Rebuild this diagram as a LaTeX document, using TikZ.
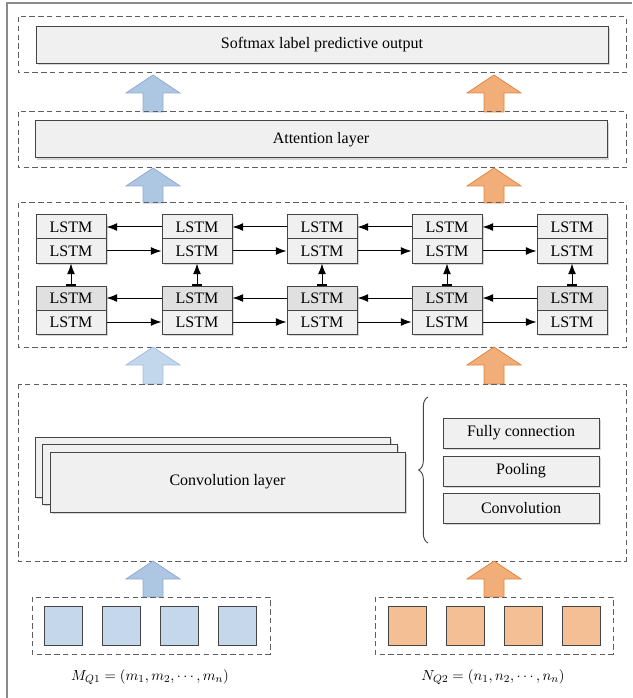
\documentclass[tikz,border=0pt]{standalone}
\usepackage{fontspec}
\setmainfont{Liberation Serif}
\usetikzlibrary{arrows.meta,decorations.pathreplacing,shadows}

\definecolor{framegray}{HTML}{8A8A8A}
\definecolor{dashgray}{HTML}{5E5E5E}
\definecolor{boxedge}{HTML}{454545}
\definecolor{boxfill}{HTML}{F0F0F0}
\definecolor{boxfilldark}{HTML}{E0E0E0}
\definecolor{blueA}{HTML}{ADC6E1}
\definecolor{blueAedge}{HTML}{8EABD2}
\definecolor{blueB}{HTML}{C3D7EC}
\definecolor{blueBedge}{HTML}{A3BEDF}
\definecolor{orangeA}{HTML}{F2AE79}
\definecolor{orangeAedge}{HTML}{E0843E}
\definecolor{bluesq}{HTML}{C5D7EA}
\definecolor{orangesq}{HTML}{F4BF94}

% upward block arrow: #1 centre x, #2 tip y, #3 bottom y, #4 fill, #5 edge
\newcommand\blockarrow[5]{%
  \filldraw[fill=#4,draw=#5,line width=0.6pt,line join=miter]
    (#1,#2) -- (#1+27,#2+18) -- (#1+10,#2+18) -- (#1+10,#3)
    -- (#1-10,#3) -- (#1-10,#2+18) -- (#1-27,#2+18) -- cycle;}

\begin{document}
\begin{tikzpicture}[x=0.75pt,y=-0.75pt,
  every node/.style={font=\fontsize{12}{14}\selectfont},
  panel/.style={draw=dashgray,line width=0.75pt,dash pattern=on 4pt off 2.6pt},
  shade box/.style={general shadow={fill=black!16,shadow xshift=1.3pt,shadow yshift=-1.3pt}},
  layerbox/.style={draw=boxedge,fill=boxfill,line width=0.75pt,shade box,
    inner sep=0pt,minimum width=#1*0.75pt,minimum height=37*0.75pt},
  lstm/.style={draw=boxedge,fill=boxfill,line width=0.75pt,shade box,
    inner sep=0pt,minimum width=70*0.75pt,minimum height=24*0.75pt},
  lstmdark/.style={lstm,fill=boxfilldark},
  sidebox/.style={draw=boxedge,fill=boxfill,line width=0.75pt,shade box,
    inner sep=0pt,minimum width=156*0.75pt,minimum height=30*0.75pt},
  convbox/.style={draw=boxedge,fill=boxfill,line width=0.75pt,shade box,
    inner sep=0pt,minimum width=355*0.75pt,minimum height=60*0.75pt},
  token/.style={draw=boxedge,line width=0.75pt,inner sep=0pt,
    minimum width=38*0.75pt,minimum height=39*0.75pt},
  flow/.style={line width=0.75pt,-{Latex[length=8pt,width=6pt]}},
  vflow/.style={line width=0.75pt,{Bar[width=7pt,line width=1.4pt]}-{Latex[length=8pt,width=6pt]}},
]
\useasboundingbox (0,0) rectangle (632,698);

% outer frame (top and left edges)
\draw[framegray,line width=0.9pt] (7,698) -- (7,3) -- (632,3);

% ---------- output layer ----------
\draw[panel] (18,17) rectangle (626,73);
\node[layerbox=572] (soft) at (322,45) {Softmax label predictive output};

\blockarrow{153}{75}{112}{blueA}{blueAedge}
\blockarrow{494}{75}{112}{orangeA}{orangeAedge}

% ---------- attention layer ----------
\draw[panel] (18,112) rectangle (626,168);
\node[layerbox=572] (att) at (321,139.5) {Attention layer};

\blockarrow{153}{168}{203}{blueA}{blueAedge}
\blockarrow{494}{168}{203}{orangeA}{orangeAedge}

% ---------- stacked bidirectional LSTM ----------
\draw[panel] (18,203) rectangle (626,347);
\foreach \i/\x in {1/71,2/197,3/322,4/447,5/572}{
  \node[lstm]     (a\i) at (\x,227) {LSTM};
  \node[lstm]     (b\i) at (\x,251) {LSTM};
  \node[lstmdark] (c\i) at (\x,298) {LSTM};
  \node[lstm]     (d\i) at (\x,322) {LSTM};
  \draw[vflow] (c\i.north) -- (b\i.south);
}
\foreach \i/\j in {1/2,2/3,3/4,4/5}{
  \draw[flow] (a\j.west) -- (a\i.east);
  \draw[flow] (b\i.east) -- (b\j.west);
  \draw[flow] (c\j.west) -- (c\i.east);
  \draw[flow] (d\i.east) -- (d\j.west);
}

\blockarrow{153}{347}{384}{blueB}{blueBedge}
\blockarrow{494}{347}{384}{orangeA}{orangeAedge}

% ---------- convolution block ----------
\draw[panel] (18,384) rectangle (626,561);
\node[convbox] (conv3) at (212.5,467) {};
\node[convbox] (conv2) at (219.5,474) {};
\node[convbox] (conv1) at (227.5,482) {Convolution layer};

\draw[boxedge,line width=0.7pt,decorate,
  decoration={brace,amplitude=7pt}] (428,543) -- (428,397);

\node[sidebox] (fc)   at (521,433) {Fully connection};
\node[sidebox] (pool) at (521,471) {Pooling};
\node[sidebox] (cv)   at (521,508) {Convolution};

\blockarrow{153}{561}{597}{blueA}{blueAedge}
\blockarrow{494}{561}{597}{orangeA}{orangeAedge}

% ---------- input sequences ----------
\draw[panel] (32,597) rectangle (270,654);
\foreach \i/\x in {1/63.5,2/121.5,3/179,4/237.5}
  \node[token,fill=bluesq] (m\i) at (\x,625.5) {};
\draw[panel] (375,597) rectangle (613,654);
\foreach \i/\x in {1/407.5,2/465,3/523,4/581.5}
  \node[token,fill=orangesq] (n\i) at (\x,625.5) {};

\node[font=\fontsize{11}{13}\selectfont] (mlabel) at (150,677)
  {$M_{Q1}=\left(m_1,m_2,\cdots,m_n\right)$};
\node[font=\fontsize{11}{13}\selectfont] (nlabel) at (493,677)
  {$N_{Q2}=\left(n_1,n_2,\cdots,n_n\right)$};
\end{tikzpicture}
\end{document}
